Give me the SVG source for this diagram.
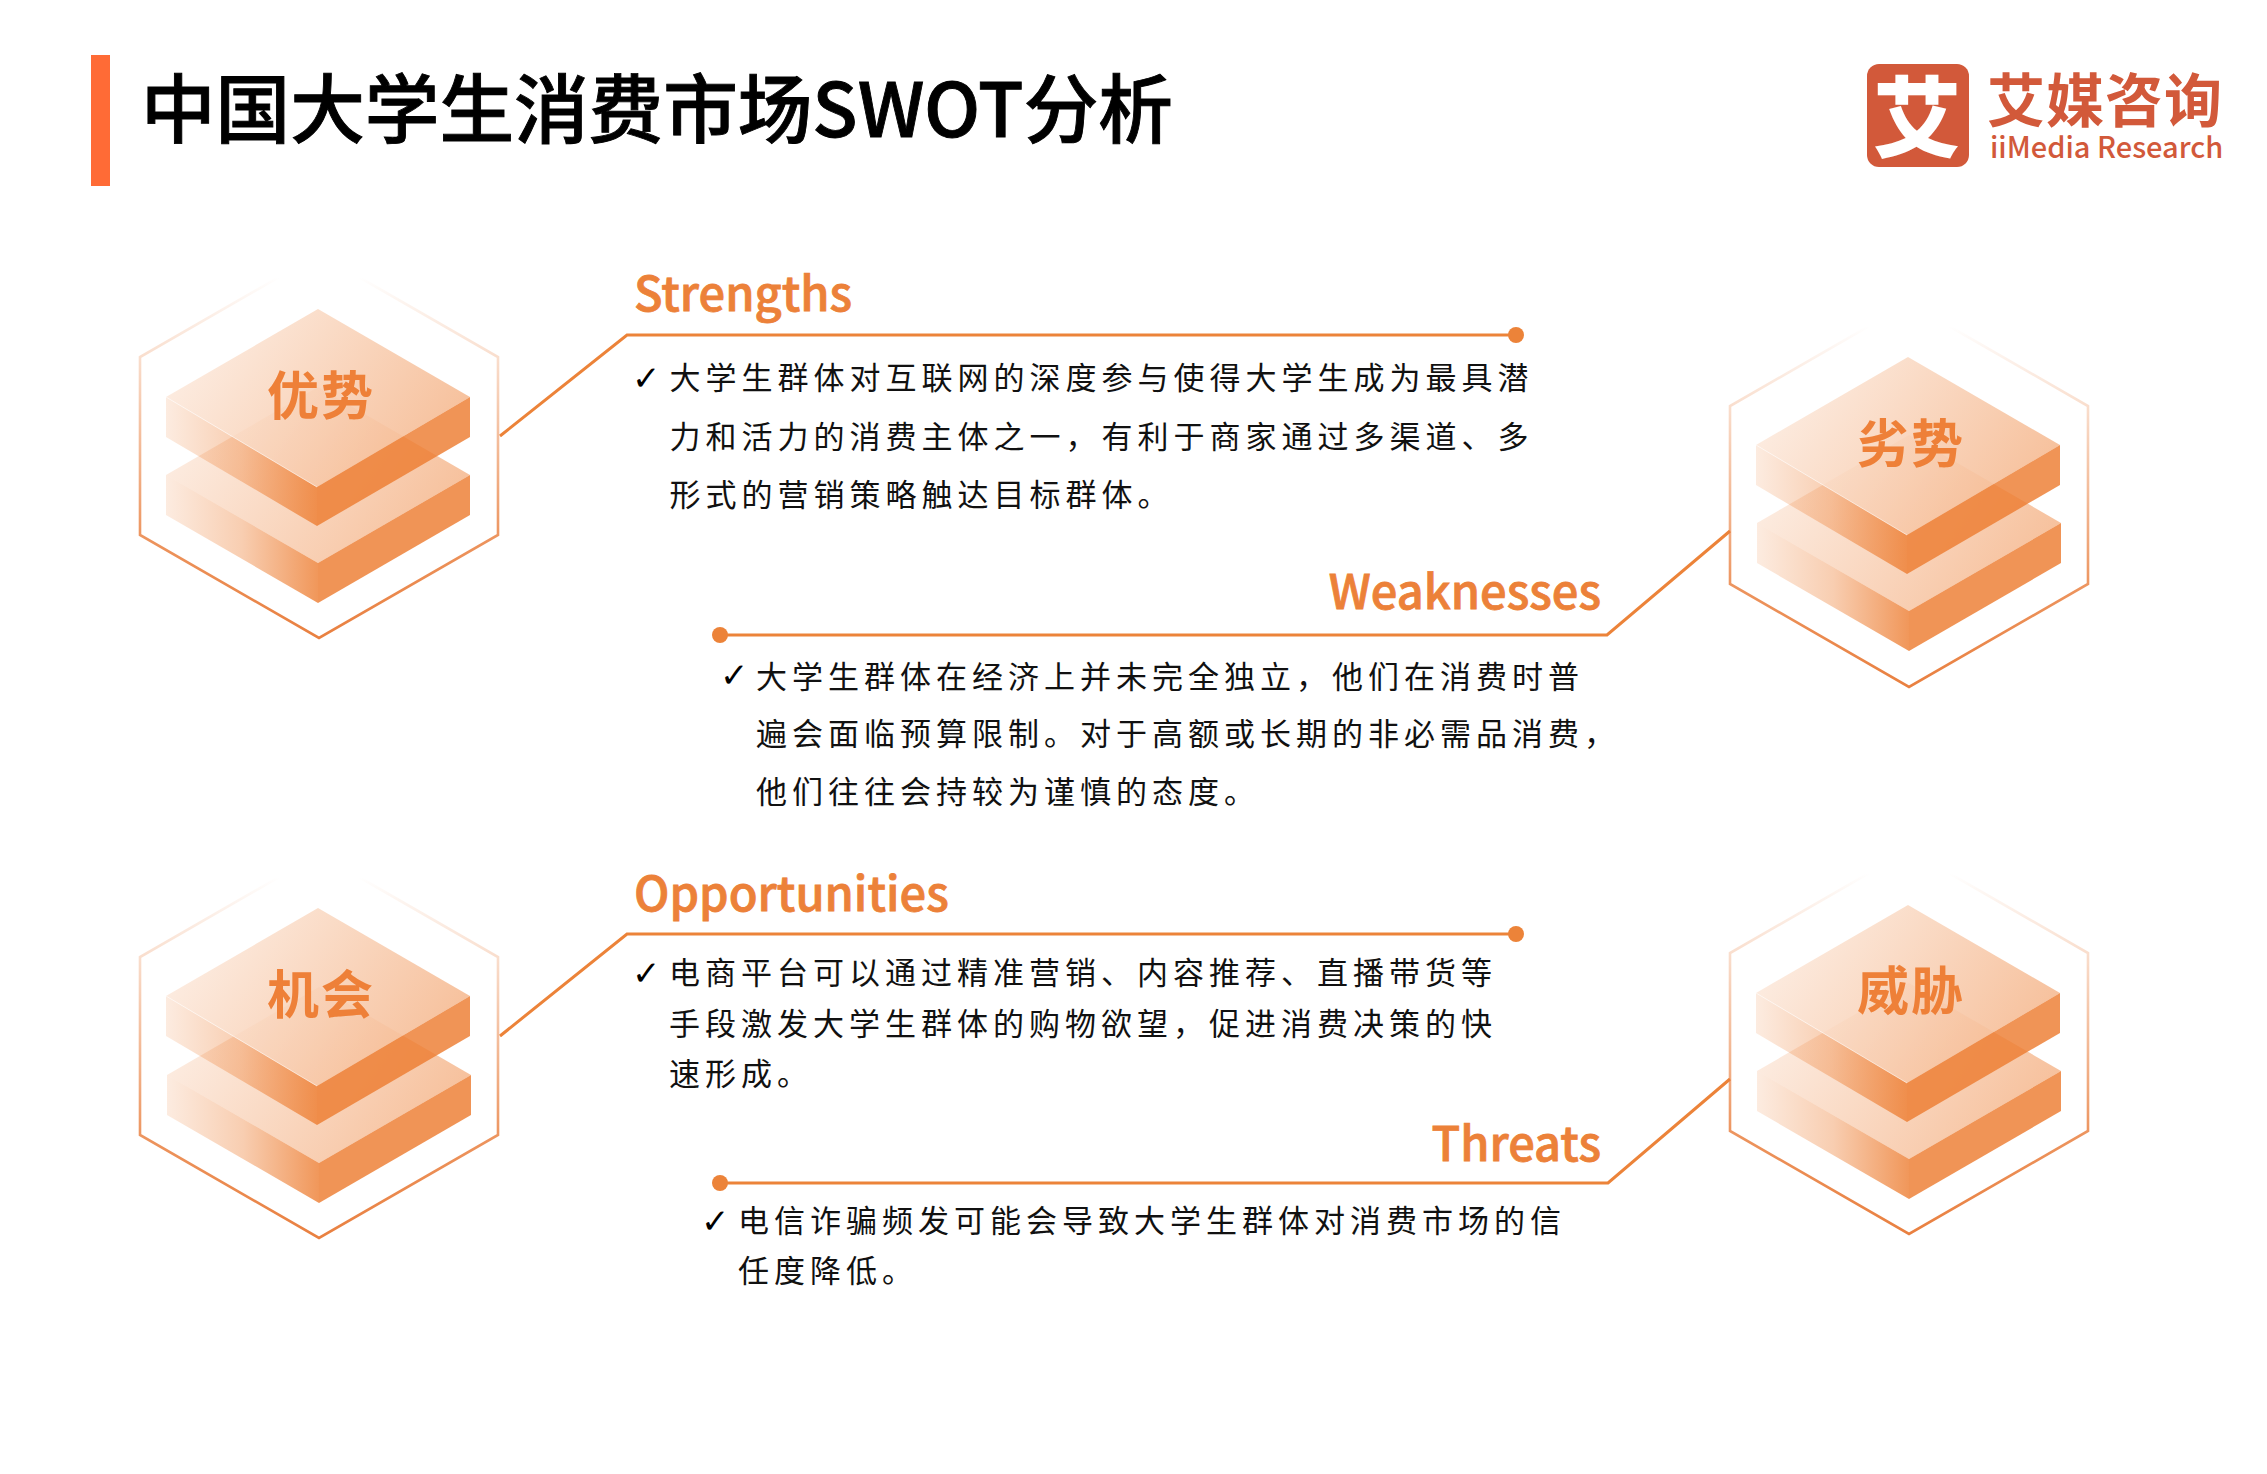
<svg xmlns="http://www.w3.org/2000/svg" xmlns:xlink="http://www.w3.org/1999/xlink" width="2267" height="1474" viewBox="0 0 2267 1474">
<style>
text{font-family:"Noto Sans CJK SC","Noto Sans",sans-serif}
.title{font-size:74.6px;font-weight:500;fill:#000;stroke:#000;stroke-width:0.9}
.head{font-size:47px;font-weight:500;fill:#ec8139;stroke:#ec8139;stroke-width:0.8}
.body{font-size:31px;font-weight:400;fill:#111;letter-spacing:5px}
.tag{font-size:52px;font-weight:700;fill:#ee8038;text-anchor:middle;letter-spacing:2px}
.chk{font-family:"DejaVu Sans",sans-serif;font-size:34px;fill:#000}
.conn{fill:none;stroke:#ec8339;stroke-width:3}
.dot{fill:#ec8339}
.logo{fill:#d2593a}
.hex{fill:none;stroke:url(#hexStroke);stroke-width:2.6}
</style>
<defs>
<linearGradient id="hexStroke" x1="0" y1="0" x2="0" y2="1">
<stop offset="0.06" stop-color="#e98040" stop-opacity="0"/>
<stop offset="0.3" stop-color="#e98040" stop-opacity="0.3"/>
<stop offset="0.75" stop-color="#e98040" stop-opacity="0.85"/>
<stop offset="1" stop-color="#e98040"/>
</linearGradient>
<linearGradient id="topFace" x1="0" y1="0.3" x2="1" y2="0.7">
<stop offset="0" stop-color="#ed7d31" stop-opacity="0.13"/>
<stop offset="1" stop-color="#ed7d31" stop-opacity="0.5"/>
</linearGradient>
<linearGradient id="leftFace" x1="0" y1="0.5" x2="1" y2="0.5">
<stop offset="0" stop-color="#ed7d31" stop-opacity="0.15"/>
<stop offset="0.5" stop-color="#ed7d31" stop-opacity="0.38"/>
<stop offset="1" stop-color="#ed7d31" stop-opacity="0.8"/>
</linearGradient>
<g id="hexagon"><polygon class="hex" points="319,254 498,357 498,535 319,638 140,535 140,357"/></g>
<g id="slabUpper">
<polygon fill="#fff" fill-opacity="0.8" points="318,309 470,397 317,487 166,397"/>
<polygon fill="url(#topFace)" points="318,309 470,397 317,487 166,397"/>
<polygon fill="url(#leftFace)" points="166,397 317,487 317,526 166,437"/>
<polygon fill="#ed7d31" fill-opacity="0.82" points="317,487 470,397 470,437 317,526"/>
<polyline points="166,397 317,487" fill="none" stroke="#fff" stroke-opacity="0.6" stroke-width="1"/>
</g>
<g id="slabLower">
<polygon fill="url(#topFace)" points="318,387 470,475 318,563 166,475"/>
<polygon fill="url(#leftFace)" points="166,475 318,563 318,603 166,515"/>
<polygon fill="#ed7d31" fill-opacity="0.82" points="318,563 470,475 470,515 318,603"/>
</g>
</defs>
<rect width="2267" height="1474" fill="#fff"/>

<g id="header">
<rect x="91" y="55" width="19" height="131" fill="#ff6b36"/>
<text class="title" x="141" y="137">中国大学生消费市场SWOT分析</text>
</g>

<g id="logo">
<rect class="logo" x="1867" y="64" width="102" height="103" rx="12"/>
<text x="1917" y="150" text-anchor="middle" font-size="88" font-weight="900" fill="#fff">艾</text>
<text class="logo" x="1987" y="122" font-size="58" font-weight="700" letter-spacing="1">艾媒咨询</text>
<text class="logo" x="1990" y="158" font-size="29" font-weight="500">iiMedia Research</text>
</g>

<g id="connectors">
<polyline class="conn" points="500,436 627,335 1516,335"/>
<circle class="dot" cx="1516" cy="335" r="8"/>
<polyline class="conn" points="1730,531 1607,635 720,635"/>
<circle class="dot" cx="720" cy="635" r="8"/>
<polyline class="conn" points="500,1036 627,934 1516,934"/>
<circle class="dot" cx="1516" cy="934" r="8"/>
<polyline class="conn" points="1730,1079 1608,1183 720,1183"/>
<circle class="dot" cx="720" cy="1183" r="8"/>
</g>

<g id="node-strengths">
<use href="#hexagon"/><use href="#slabLower"/><use href="#slabUpper"/>
<text class="tag" x="321" y="415">优势</text>
</g>
<g id="node-weaknesses">
<use href="#hexagon" transform="translate(1590,49)"/><use href="#slabLower" transform="translate(1591,48)"/><use href="#slabUpper" transform="translate(1590,48)"/>
<text class="tag" x="1911" y="463">劣势</text>
</g>
<g id="node-opportunities">
<use href="#hexagon" transform="translate(0,600)"/><use href="#slabLower" transform="translate(1,600)"/><use href="#slabUpper" transform="translate(0,599)"/>
<text class="tag" x="321" y="1014">机会</text>
</g>
<g id="node-threats">
<use href="#hexagon" transform="translate(1590,596)"/><use href="#slabLower" transform="translate(1591,596)"/><use href="#slabUpper" transform="translate(1590,596)"/>
<text class="tag" x="1911" y="1010">威胁</text>
</g>

<g id="text-strengths">
<text class="head" x="634" y="311">Strengths</text>
<text class="chk" x="632" y="390">✓</text>
<text class="body" x="669.5" y="389">大学生群体对互联网的深度参与使得大学生成为最具潜</text>
<text class="body" x="669.5" y="448">力和活力的消费主体之一，有利于商家通过多渠道、多</text>
<text class="body" x="669.5" y="506">形式的营销策略触达目标群体。</text>
</g>
<g id="text-weaknesses">
<text class="head" x="1601" y="609" text-anchor="end">Weaknesses</text>
<text class="chk" x="720" y="687">✓</text>
<text class="body" x="756" y="688">大学生群体在经济上并未完全独立，他们在消费时普</text>
<text class="body" x="756" y="745">遍会面临预算限制。对于高额或长期的非必需品消费，</text>
<text class="body" x="756" y="803">他们往往会持较为谨慎的态度。</text>
</g>
<g id="text-opportunities">
<text class="head" x="634" y="911">Opportunities</text>
<text class="chk" x="632" y="985">✓</text>
<text class="body" x="669" y="984">电商平台可以通过精准营销、内容推荐、直播带货等</text>
<text class="body" x="669" y="1035">手段激发大学生群体的购物欲望，促进消费决策的快</text>
<text class="body" x="669" y="1085">速形成。</text>
</g>
<g id="text-threats">
<text class="head" x="1601" y="1161" text-anchor="end">Threats</text>
<text class="chk" x="701" y="1233">✓</text>
<text class="body" x="738" y="1232">电信诈骗频发可能会导致大学生群体对消费市场的信</text>
<text class="body" x="738" y="1282">任度降低。</text>
</g>
</svg>
